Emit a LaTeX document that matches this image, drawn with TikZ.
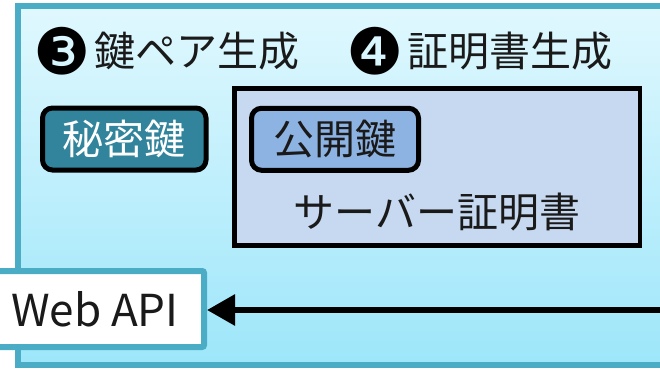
\documentclass[tikz,border=0pt]{standalone}
\usepackage{fontspec}
\setmainfont{Noto Sans CJK JP}
\newfontfamily\dvfont{DejaVu Sans}
\usetikzlibrary{arrows.meta}
\definecolor{outerborder}{HTML}{4BACC6}
\definecolor{gradtop}{HTML}{E0F8FE}
\definecolor{gradbot}{HTML}{9DE6FA}
\definecolor{secretfill}{HTML}{31849B}
\definecolor{publicfill}{HTML}{8DB3E2}
\definecolor{certfill}{HTML}{C6D9F0}
\definecolor{txt}{HTML}{1A1A1A}
\tikzset{
  keybox/.style={draw=black, line width=5pt, rounded corners=10pt, inner sep=0pt, font=\fontsize{41}{43}\selectfont},
  titletext/.style={anchor=west, inner sep=0pt, text=txt, font=\fontsize{41}{43}\selectfont},
  numtext/.style={inner sep=0pt, text=black, font=\dvfont\fontsize{64}{64}\selectfont},
}
\begin{document}
\begin{tikzpicture}[x=1pt,y=-1pt]
\useasboundingbox (0,0) rectangle (660,368);
\clip (0,0) rectangle (660,368);
\fill[white] (0,0) rectangle (660,368);
% outer container
\shade[top color=gradtop, bottom color=gradbot] (18,6) rectangle (720,365);
\draw[outerborder, line width=6pt] (18,6) rectangle (720,365);
% titles
\node[numtext] (n3) at (62,51) {❸};
\node[titletext] (t3) at (94,51) {鍵ペア生成};
\node[numtext] (n4) at (375,51) {❹};
\node[titletext] (t4) at (407,51) {証明書生成};
% certificate
\node[draw=black, line width=4.5pt, fill=certfill, minimum width=405.5pt, minimum height=157pt, inner sep=0pt] (cert) at (437.25,167) {};
\node[inner sep=0pt, text=txt, font=\fontsize{41}{43}\selectfont] (certlabel) at (437,212) {サーバー証明書};
% keys
\node[keybox, fill=secretfill, text=white, minimum width=163.5pt, minimum height=62pt] (secret) at (124.25,139) {秘密鍵};
\node[keybox, fill=publicfill, text=txt, minimum width=167pt, minimum height=62pt] (public) at (335,139.25) {公開鍵};
% Web API
\node[draw=outerborder, fill=white, line width=6pt, rounded corners=2pt, minimum width=214pt, minimum height=76pt, inner sep=0pt, text=txt, font=\fontsize{44}{46}\selectfont] (webapi) at (97,309) {\hspace{-4pt}Web API};
\coordinate (src) at (670,310);
\draw[line width=6pt, -{Triangle[length=28pt,width=30pt]}] (src) -- (webapi.east |- src);
\end{tikzpicture}
\end{document}
